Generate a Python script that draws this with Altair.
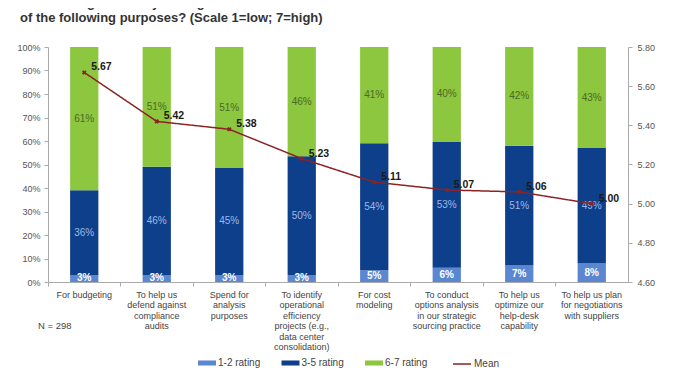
import altair as alt
import pandas as pd

categories = [
    "For budgeting",
    "To help us|defend against|compliance|audits",
    "Spend for|analysis|purposes",
    "To identify|operational|efficiency|projects (e.g.,|data center|consolidation)",
    "For cost|modeling",
    "To conduct|options analysis|in our strategic|sourcing practice",
    "To help us|optimize our|help-desk|capability",
    "To help us plan|for negotiations|with suppliers",
]
series = ["1-2 rating", "3-5 rating", "6-7 rating"]
rating_12 = [3, 3, 3, 3, 5, 6, 7, 8]
rating_35 = [36, 46, 45, 50, 54, 53, 51, 49]
rating_67 = [61, 51, 51, 46, 41, 40, 42, 43]
means = [5.67, 5.42, 5.38, 5.23, 5.11, 5.07, 5.06, 5.00]

FONT = "Liberation Sans"
colors = ["#5b86d0", "#0e3f8a", "#8dc63f"]
label_colors = ["#ffffff", "#9fb8e6", "#4a6a25"]
LINE = "#8b2323"

rows = []
for s_i, (s, vals) in enumerate(zip(series, [rating_12, rating_35, rating_67])):
    for c, v in zip(categories, vals):
        rows.append({"cat": c, "series": s, "value": v, "order": s_i,
                     "label": f"{v}%"})
bars_df = pd.DataFrame(rows)
mean_df = pd.DataFrame({"cat": categories, "mean": means, "series": "Mean"})
note_df = pd.DataFrame({"n": [0]})

x_enc = alt.X(
    "cat:N", sort=categories, title=None,
    scale=alt.Scale(paddingInner=0.61, paddingOuter=0.305),
    axis=alt.Axis(labelAngle=0, labelExpr="split(datum.label, '|')",
                  labelFont=FONT, labelFontSize=9, labelColor="#444444",
                  labelLineHeight=10.5, labelPadding=4, labelLimit=200,
                  domainColor="#aaaaaa", tickColor="#aaaaaa", tickSize=4,
                  bandPosition=-0.782),
)

left_axis = alt.Axis(format=".0%", values=[i / 10 for i in range(11)],
                     labelFont=FONT, labelFontSize=9, labelColor="#555555",
                     labelPadding=4, domainColor="#aaaaaa",
                     tickColor="#aaaaaa", tickSize=4, grid=False, title=None)
left_scale = alt.Scale(domain=[0, 1])

base = alt.Chart(bars_df).transform_stack(
    stack="value", groupby=["cat"], as_=["y0", "y1"], offset="normalize",
    sort=[alt.SortField("order", order="ascending")],
).transform_calculate(mid="(datum.y0 + datum.y1) / 2")

bars = base.mark_bar().encode(
    x=x_enc,
    y=alt.Y("y0:Q", scale=left_scale, title=None, axis=left_axis),
    y2="y1:Q",
    color=alt.Color("series:N", sort=series,
                    scale=alt.Scale(domain=series, range=colors),
                    legend=alt.Legend(
                        title=None, orient="none", direction="horizontal",
                        legendX=150, legendY=307, columns=3,
                        symbolType="M-1,-0.28H1V0.28H-1Z", symbolSize=324,
                        symbolStrokeWidth=0, columnPadding=20.5,
                        labelFont=FONT, labelFontSize=10, labelColor="#444444",
                        labelOffset=2)),
    order=alt.Order("order:Q"),
)

texts = []
for s_i, s in enumerate(series):
    texts.append(
        base.transform_filter(alt.datum.series == s).mark_text(
            font=FONT, fontSize=10,
            fontWeight="bold" if s_i == 0 else "normal",
            color=label_colors[s_i], baseline="middle",
        ).encode(
            x=x_enc,
            y=alt.Y("mid:Q", scale=left_scale, title=None, axis=left_axis),
            text="label:N",
        )
    )

bar_group = alt.layer(bars, *texts)

y_mean = alt.Scale(domain=[4.6, 5.8])
right_axis = alt.Axis(orient="right", format=".2f",
                      values=[4.6, 4.8, 5.0, 5.2, 5.4, 5.6, 5.8],
                      labelFont=FONT, labelFontSize=9, labelColor="#555555",
                      labelPadding=5, domainColor="#aaaaaa",
                      tickColor="#aaaaaa", tickSize=4, grid=False, title=None)
y_mean_enc = alt.Y("mean:Q", scale=y_mean, title=None, axis=right_axis)

line = alt.Chart(mean_df).mark_line(color=LINE, strokeWidth=1.5).encode(
    x=x_enc,
    y=y_mean_enc,
    strokeDash=alt.StrokeDash(
        "series:N", scale=alt.Scale(domain=["Mean"], range=[[1, 0]]),
        legend=alt.Legend(title=None, orient="none", legendX=404,
                          legendY=307, symbolType="stroke",
                          symbolSize=324, symbolStrokeColor=LINE,
                          symbolStrokeWidth=1.5, labelFont=FONT,
                          labelFontSize=10, labelColor="#444444",
                          labelOffset=2)),
)
pts = alt.Chart(mean_df).mark_point(
    shape="cross", angle=45, size=22, filled=True, color=LINE, opacity=1
).encode(x=x_enc, y=y_mean_enc)
mean_labels = alt.Chart(mean_df).mark_text(
    font=FONT, fontSize=10.5, fontWeight="bold", color="#1a1a1a",
    align="left", baseline="middle", dx=7, dy=-5,
).encode(x=x_enc, y=y_mean_enc, text=alt.Text("mean:Q", format=".2f"))

line_group = alt.layer(line, pts, mean_labels)


def note(txt, x, y, size, weight="normal", color="#444444"):
    return alt.Chart(note_df).mark_text(
        text=txt, font=FONT, fontSize=size, fontWeight=weight, color=color,
        align="left", baseline="alphabetic",
    ).encode(x=alt.value(x), y=alt.value(y))


notes = alt.layer(
    note("To what degree does your organization use its ITAM information for each",
         -28, -40, 13, "bold", "#333333"),
    note("of the following purposes? (Scale 1=low; 7=high)",
         -28, -25, 13, "bold", "#333333"),
    note("N = 298", -10, 282, 9.5),
    note("Source: Gartner 2011 ITAM survey", 24, 336, 9.5),
)

chart = alt.layer(bar_group, line_group, notes).resolve_scale(
    y="independent", color="independent"
).properties(
    width=580, height=235,
    padding={"left": 40, "top": 39, "right": 39, "bottom": 91},
    autosize=alt.AutoSizeParams(type="none"),
).configure_view(stroke=None)

chart.save("out.html", embed_options={"renderer": "svg", "actions": False})
